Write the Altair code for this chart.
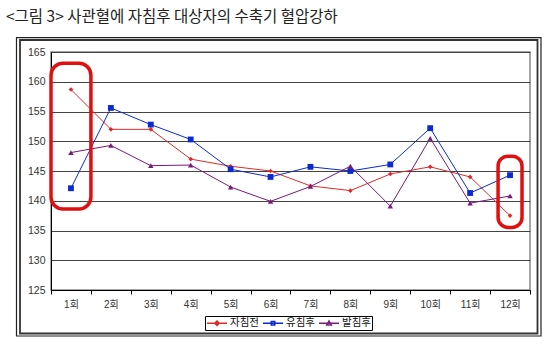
import altair as alt
import pandas as pd

title_text = "<그림 3> 사관혈에 자침후 대상자의 수축기 혈압강하"
categories = ["1회", "2회", "3회", "4회", "5회", "6회", "7회", "8회", "9회", "10회", "11회", "12회"]
series_names = ["자침전", "유침후", "발침후"]
series_colors = ["#e02a2a", "#0b2ad0", "#7a1a7a"]
before = [158.7, 152.0, 152.0, 147.0, 145.8, 145.0, 142.5, 141.7, 144.5, 145.7, 144.0, 137.5]
retained = [142.1, 155.6, 152.8, 150.3, 145.3, 144.0, 145.7, 145.0, 146.1, 152.2, 141.3, 144.3]
after = [148.1, 149.3, 145.9, 146.0, 142.3, 139.9, 142.4, 145.8, 139.1, 150.5, 139.6, 140.8]
y_ticks = [125, 130, 135, 140, 145, 150, 155, 160, 165]
# hand-drawn red circles (annotation) around first and last sessions
mark_cats = ["1회", "12회"]
mark_lo = [138.6, 135.5]
mark_hi = [163.1, 147.5]

rows = []
for name, vals in zip(series_names, [before, retained, after]):
    for c, v in zip(categories, vals):
        rows.append({"cat": c, "series": name, "value": v})
df = pd.DataFrame(rows)
ann = pd.DataFrame({"cat": mark_cats, "lo": mark_lo, "hi": mark_hi})
one = pd.DataFrame({"a": [0]})

FONT = "Liberation Sans, Noto Sans CJK KR"

xaxis = alt.Axis(title=None, labelAngle=0, tickBand="extent", tickSize=4,
                 labelPadding=5, domainColor="black", tickColor="black",
                 labelFontSize=10, labelColor="#333", labelFont=FONT, grid=False)
xscale = alt.Scale(type="band", paddingInner=0, paddingOuter=0)
xenc = alt.X("cat:N", sort=categories, scale=xscale, axis=xaxis)
yscale = alt.Scale(domain=[125, 165], nice=False, zero=False)
yaxis = alt.Axis(title=None, values=y_ticks, grid=True, gridColor="#444", labelOverlap=False,
                 gridWidth=1, tickSize=0, labelPadding=6, domainColor="black",
                 labelFontSize=10.5, labelColor="#333", labelFont=FONT)
yenc = alt.Y("value:Q", scale=yscale, axis=yaxis)
color_scale = alt.Scale(domain=series_names, range=series_colors)

base = alt.Chart(df)

outer = alt.Chart(one).mark_rect(fillOpacity=0, stroke="#222", strokeWidth=1.2).encode(
    x=alt.value(-34.5), x2=alt.value(490), y=alt.value(-14.3), y2=alt.value(284))
inner = alt.Chart(one).mark_rect(fillOpacity=0, stroke="#333", strokeWidth=1.8).encode(
    x=alt.value(-31), x2=alt.value(486.5), y=alt.value(-12), y2=alt.value(281.5))

title = alt.Chart(one).mark_text(text=title_text, align="left", baseline="middle",
                                  font="Noto Sans CJK KR", fontSize=15.5, color="#222").encode(
    x=alt.value(-45), y=alt.value(-35))

marker_shapes = ["diamond", "square", "triangle-up"]
marker_sizes = [22, 34, 30]
series_layers = []
for name, col, shp, sz in zip(series_names, series_colors, marker_shapes, marker_sizes):
    sub = base.transform_filter(alt.datum.series == name)
    series_layers.append(sub.mark_line(strokeWidth=1, color=col).encode(x=xenc, y=yenc))
    series_layers.append(sub.mark_point(filled=True, opacity=1, shape=shp, size=sz, color=col)
                         .encode(x=xenc, y=yenc))

leg_paths = [
    "M-1,0L3,0M1,-0.45L1.45,0L1,0.45L0.55,0Z",
    "M-1,0L3,0M0.65,-0.35L1.35,-0.35L1.35,0.35L0.65,0.35Z",
    "M-1,0L3,0M1,-0.45L1.45,0.35L0.55,0.35Z",
]
legend = alt.Legend(title=None, orient="none", legendX=154, legendY=264, direction="horizontal",
                    strokeColor="black", padding=1, symbolSize=100, symbolStrokeWidth=1.5,
                    labelOffset=12, columnPadding=1, labelFontSize=10.5, labelFont="Noto Sans CJK KR",
                    labelColor="#111", symbolOpacity=1)
legend_layer = base.mark_point(filled=False, opacity=1, strokeWidth=1.5, clip=True).encode(
    x=xenc, y=alt.value(-600),
    color=alt.Color("series:N", scale=color_scale, legend=legend),
    shape=alt.Shape("series:N", scale=alt.Scale(domain=series_names, range=leg_paths), legend=legend))

ann1 = alt.Chart(ann[ann.cat == "1회"]).mark_bar(
    fillOpacity=0, stroke="#e01010", strokeWidth=3.5, cornerRadius=12,
    width=alt.RelativeBandSize(1.0)).encode(
    x=alt.X("cat:N", sort=categories, scale=xscale, axis=xaxis),
    y=alt.Y("lo:Q", scale=yscale, axis=yaxis), y2="hi:Q")
ann2 = alt.Chart(ann[ann.cat == "12회"]).mark_bar(
    fillOpacity=0, stroke="#e01010", strokeWidth=3.5, cornerRadius=10,
    width=alt.RelativeBandSize(0.6)).encode(
    x=alt.X("cat:N", sort=categories, scale=xscale, axis=xaxis),
    y=alt.Y("lo:Q", scale=yscale, axis=yaxis), y2="hi:Q")

chart = alt.layer(outer, inner, title, *series_layers, ann1, ann2, legend_layer).properties(
    width=479, height=238,
    autosize=alt.AutoSizeParams(type="none"),
    padding={"left": 51, "top": 52, "right": 29, "bottom": 61},
    background="white",
).configure_view(stroke="#888", strokeWidth=1.5)

chart.save("out.html", embed_options={"renderer": "svg", "actions": False})
